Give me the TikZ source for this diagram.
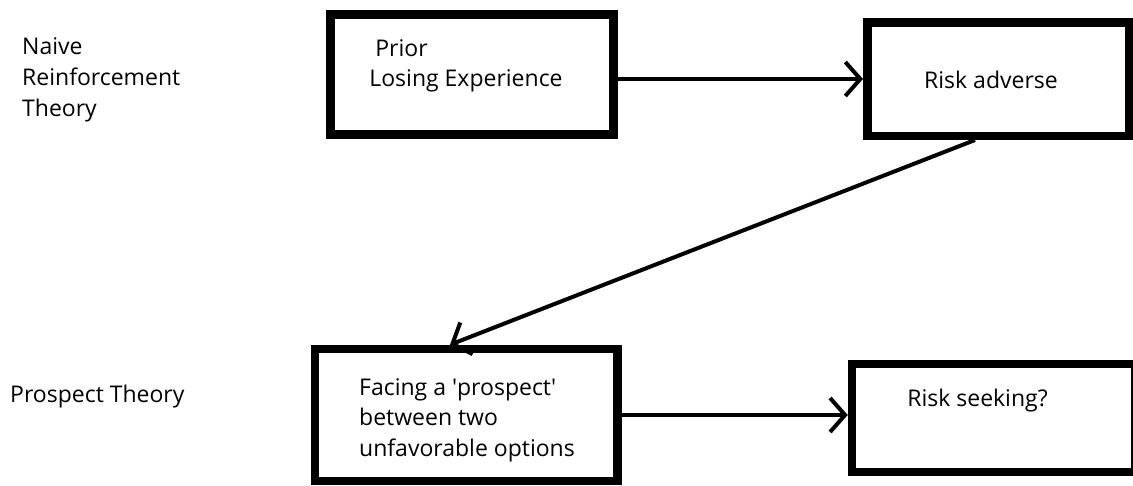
\documentclass[tikz,border=0pt]{standalone}
\usepackage{fontspec}
\setmainfont{Open Sans}
\usetikzlibrary{arrows.meta}
\tikzset{
    theory/.style = {
        align=left, inner sep=0pt,
        font=\fontsize{23}{31}\selectfont
    },
    block/.style = {
        rectangle, draw,
        line width=8.5pt,
        inner sep=0pt
    },
    blocktext/.style = {
        align=left, inner sep=0pt,
        font=\fontsize{23}{30.5}\selectfont
    },
    arrow/.style = {
        line width=4pt,
        -{Straight Barb[length=15pt, width=34pt, line width=4pt, sharp]}
    }
}

\begin{document}
\begin{tikzpicture}[x=1pt, y=-1pt]
\useasboundingbox (0,0) rectangle (1133,485);

% theory names on the left
\node (naive) [theory, anchor=west] at (22,80) {Naive\\Reinforcement\\Theory};
\node (prospect) [theory, anchor=west] at (10,397) {Prospect Theory};

% boxes
\node (prior) [block, minimum width=283pt, minimum height=120pt,
    label={[blocktext, xshift=-6pt, yshift=8.5pt]center:{\hspace*{6pt}Prior\\Losing Experience}}]
    at (472,74.5) {};
\node (adverse) [block, minimum width=261.5pt, minimum height=113.5pt,
    label={[blocktext, xshift=-7pt, yshift=-1pt]center:Risk adverse}]
    at (998,79) {};
\node (facing) [block, minimum width=302.5pt, minimum height=132pt,
    label={[blocktext, xshift=1pt, yshift=-5pt]center:{Facing a \textquotesingle prospect\textquotesingle\\between two\\unfavorable options}}]
    at (466,415) {};
\node (seeking) [block, minimum width=283pt, minimum height=108pt,
    label={[blocktext, xshift=-16pt, yshift=17pt]center:Risk seeking?}]
    at (993.5,418) {};

% arrows
\draw [arrow] (prior.east |- adverse.west) -- (adverse.west);
\draw [arrow] ([xshift=-23pt]adverse.south) -- ([xshift=-16pt]facing.north);
\draw [arrow] (facing.east) -- (facing.east -| seeking.west);

\end{tikzpicture}
\end{document}
